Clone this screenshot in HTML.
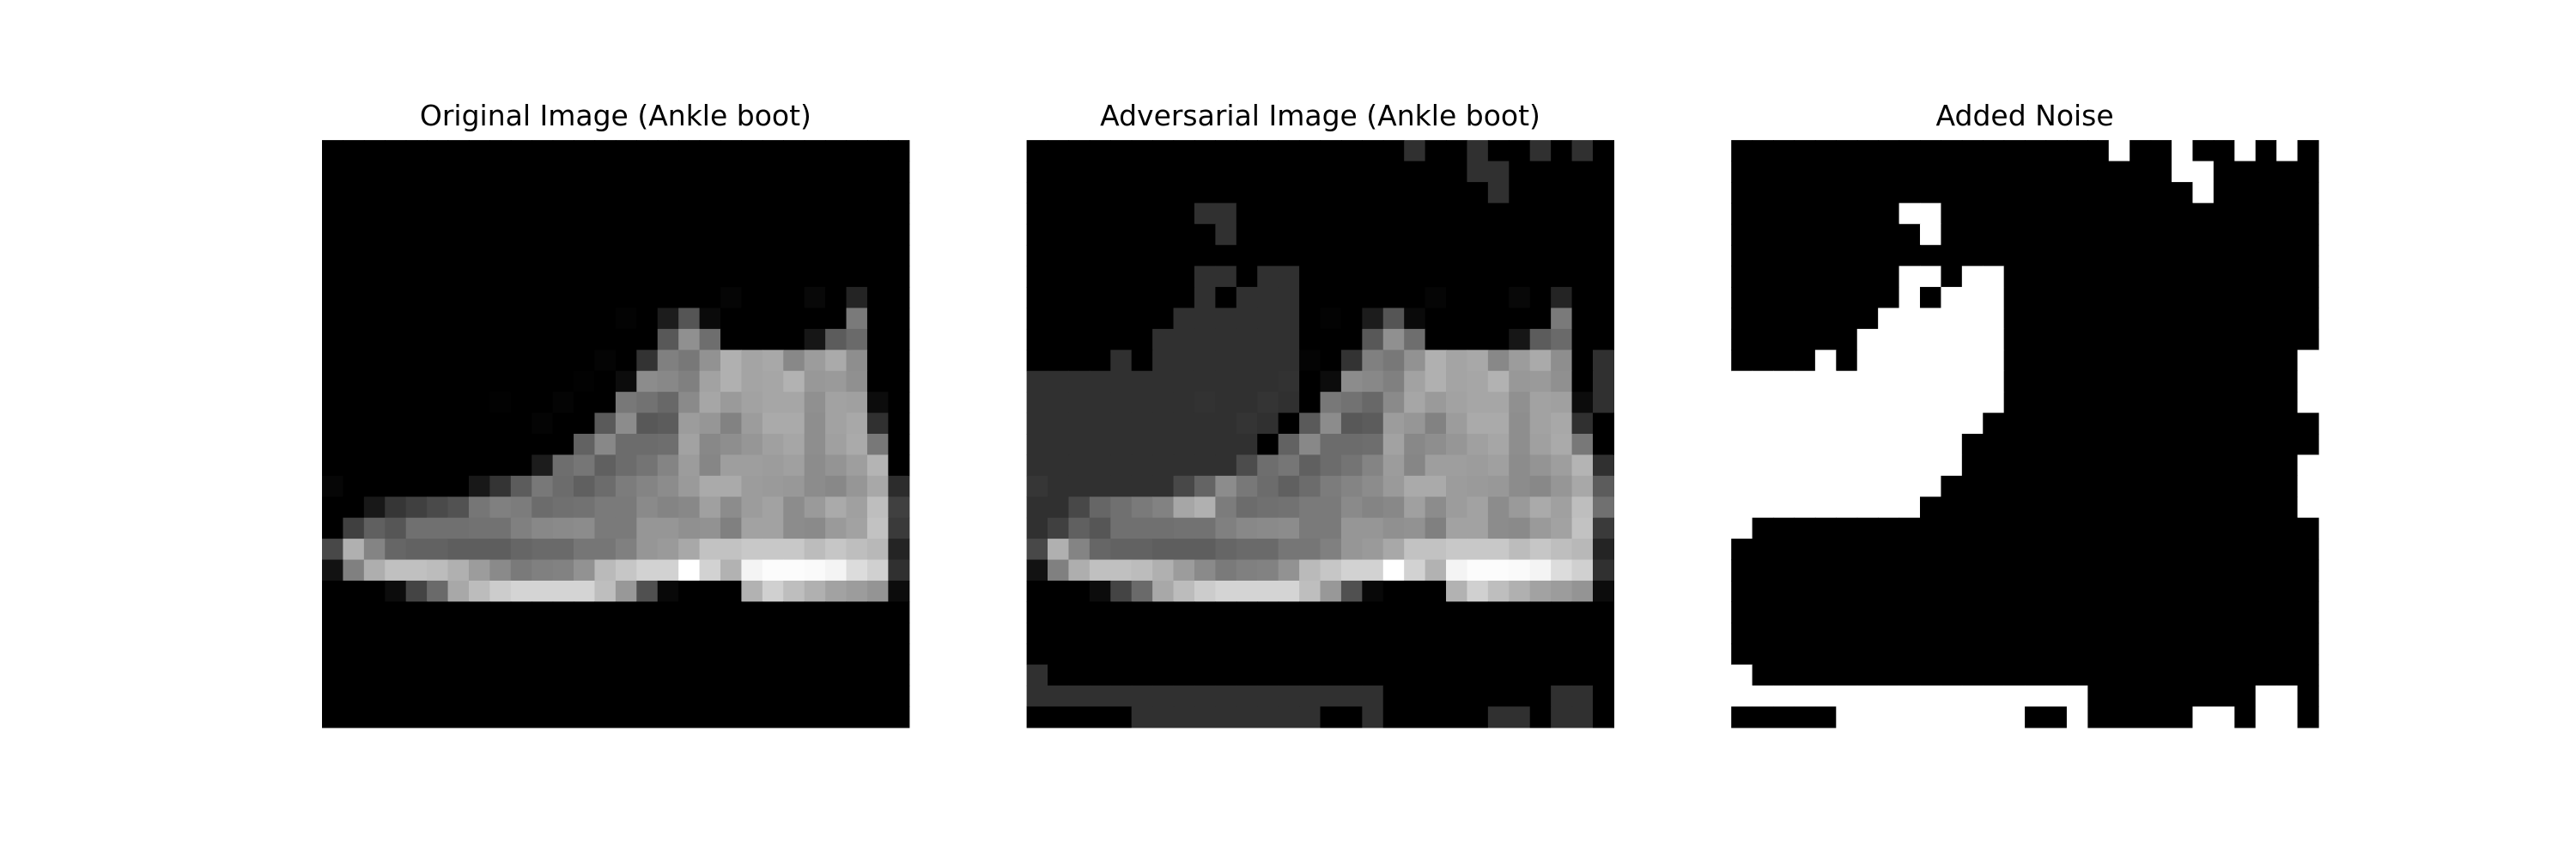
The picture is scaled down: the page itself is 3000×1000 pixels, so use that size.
<!DOCTYPE html>
<html><head><meta charset="utf-8"><style>
html,body{margin:0;padding:0;background:#fff;}
svg{display:block;}
text{font-family:"DejaVu Sans","Liberation Sans",sans-serif;font-size:33px;fill:#000;}
</style></head><body>
<svg id="fig" width="3000" height="1000" xmlns="http://www.w3.org/2000/svg">
<rect width="3000" height="1000" fill="#fff"/>
<text x="716.9" y="146" text-anchor="middle">Original Image (Ankle boot)</text>
<text x="1537.5" y="146" text-anchor="middle">Adversarial Image (Ankle boot)</text>
<text x="2358.1" y="146" text-anchor="middle">Added Noise</text>
<g id="p0"></g>
<g id="p1"></g>
<g id="p2"></g>
</svg>
<script>
const Z=[0,0,0,0,0,0,0,0,0,0,0,0,0,0,0,0,0,0,0,0,0,0,0,0,0,0,0,0];
const origRows=[Z,Z,Z,Z,Z,Z,Z,
[0,0,0,0,0,0,0,0,0,0,0,0,0,0,0,0,0,0,0,5,0,0,0,8,0,36,0,0],
[0,0,0,0,0,0,0,0,0,0,0,0,0,0,3,0,28,85,10,0,0,0,0,0,0,122,0,0],
[0,0,0,0,0,0,0,0,0,0,0,0,0,0,0,0,88,144,110,0,0,0,0,22,92,106,0,0],
[0,0,0,0,0,0,0,0,0,0,0,0,0,4,0,51,128,120,146,176,164,168,136,156,170,142,0,0],
[0,0,0,0,0,0,0,0,0,0,0,0,2,0,12,140,136,128,162,176,164,166,178,152,154,144,0,0],
[0,0,0,0,0,0,0,0,2,0,0,4,0,0,120,114,104,138,166,154,162,166,166,144,162,160,12,0],
[0,0,0,0,0,0,0,0,0,0,4,0,0,90,140,88,92,156,150,130,156,170,170,142,162,168,48,0],
[0,0,0,0,0,0,0,0,0,0,0,0,98,136,108,108,110,162,136,142,150,160,166,142,160,170,120,0],
[0,0,0,0,0,0,0,0,0,0,28,110,118,96,108,116,132,156,134,158,158,156,160,140,148,158,180,0],
[6,0,0,0,0,0,0,24,52,92,120,108,96,108,124,132,140,154,170,170,156,154,152,140,136,150,168,44],
[0,0,24,54,64,74,82,118,128,124,108,112,114,122,122,138,132,136,160,140,156,162,140,154,170,160,190,64],
[0,64,96,86,112,112,112,114,114,128,136,138,140,122,122,150,150,144,146,128,162,162,140,138,154,162,194,58],
[72,176,132,102,98,98,94,94,94,102,106,106,118,118,128,150,154,168,194,194,200,200,200,188,198,190,184,36],
[18,128,174,192,192,188,176,156,138,122,128,130,146,186,198,210,210,255,210,178,244,252,252,250,244,220,208,48],
[0,0,0,12,68,106,168,188,204,212,212,212,212,190,152,80,8,0,0,0,178,208,190,176,162,156,148,12],
Z,Z,Z,Z,Z,Z];
// noise "on" spans per row: [start,end] inclusive
const noiseSpans=[
[[18,18],[21,21],[24,24],[26,26]],[[21,22]],[[22,22]],[[8,9]],[[9,9]],[],
[[8,9],[11,12]],[[8,8],[10,12]],[[7,12]],[[6,12]],[[4,4],[6,12],[27,27]],
[[0,12],[27,27]],[[0,12],[27,27]],[[0,11]],[[0,10]],[[0,10],[27,27]],[[0,9],[27,27]],
[[0,8],[27,27]],[[0,0]],[],[],[],[],[],[],[[0,0]],[[0,16],[25,26]],
[[5,13],[16,16],[22,23],[25,26]]];
const eps=0.19;
const axLeft=[375,1195.6,2016.2], axTop=163.1, axSize=683.8, N=28;
const cell=axSize/N;
const xs=(p,c)=>axLeft[p]+c*cell, ys=r=>axTop+r*cell;
const noise=noiseSpans.map(sp=>{const a=new Array(N).fill(0);sp.forEach(([s,e])=>{for(let i=s;i<=e;i++)a[i]=1;});return a;});
const orig=origRows.map(r=>r.map(v=>v/255));
const adv=orig.map((r,i)=>r.map((v,j)=>Math.min(1,Math.max(0,v+eps*noise[i][j]))));
function norm(m){let mn=Infinity,mx=-Infinity;m.forEach(r=>r.forEach(v=>{mn=Math.min(mn,v);mx=Math.max(mx,v);}));return m.map(r=>r.map(v=>mx>mn?(v-mn)/(mx-mn):0));}
const mats=[norm(orig),norm(adv),norm(noise)];
const NS='http://www.w3.org/2000/svg';
mats.forEach((m,p)=>{
  const g=document.getElementById('p'+p);
  for(let r=0;r<N;r++)for(let c=0;c<N;c++){
    const v=Math.round(m[r][c]*255);
    const el=document.createElementNS(NS,'rect');
    el.setAttribute('x',xs(p,c));el.setAttribute('y',ys(r));
    el.setAttribute('width',cell+0.6);el.setAttribute('height',cell+0.6);
    el.setAttribute('fill',`rgb(${v},${v},${v})`);
    
    
    g.appendChild(el);
  }
});
</script>
</body></html>
